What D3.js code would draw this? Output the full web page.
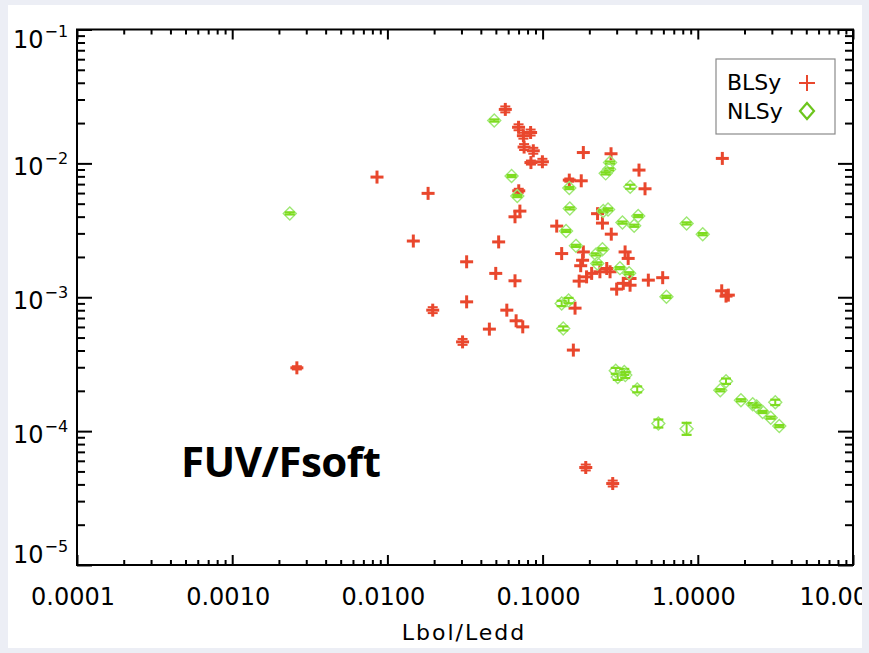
<!DOCTYPE html>
<html><head><meta charset="utf-8">
<script src="https://cdn.jsdelivr.net/npm/d3@7"></script>
<style>body{margin:0;background:#eceef5;overflow:hidden}</style>
</head><body>
<svg id="c" width="869" height="653"></svg>
<script>
// ---- data ----
const xTickValues = [1e-4, 1e-3, 1e-2, 1e-1, 1, 10];
const xTickLabels = ["0.0001", "0.0010", "0.0100", "0.1000", "1.0000", "10.0000"];
const yTickValues = [1e-1, 1e-2, 1e-3, 1e-4, 1e-5];
const yTickExponents = ["\u22121", "\u22122", "\u22123", "\u22124", "\u22125"];
const seriesNames = ["BLSy", "NLSy"];
const xTitle = "Lbol/Ledd";
const panelTitle = "FUV/Fsoft";

const blsyX = [0.0575,0.0700,0.0752,0.0837,0.0760,0.0871,0.0841,0.0997,0.183,0.276,0.418,0.1486,0.1774,0.457,0.0702,0.0714,0.0664,0.226,0.243,0.1233,0.277,0.00857,0.01829,0.01469,0.0521,0.0324,0.0324,0.01959,0.0305,0.00261,0.0588,0.0454,0.0675,0.0745,0.0499,0.0664,0.1618,0.1578,0.1897,0.283,1.439,1.426,1.573,1.52,0.480,0.594,0.1327,0.183,0.181,0.176,0.259,0.272,0.234,0.207,0.192,0.172,0.340,0.356,0.366,0.331,0.366,0.300];
const blsyY = [0.0253,0.0186,0.0161,0.0170,0.01324,0.01242,0.01014,0.01028,0.01205,0.01180,0.00891,0.00750,0.00741,0.00646,0.00624,0.00440,0.00399,0.00421,0.00358,0.00340,0.00296,0.00790,0.00597,0.00263,0.00259,0.00184,0.000924,0.000801,0.000464,0.000297,0.000801,0.000578,0.000667,0.000601,0.001507,0.001327,0.000829,0.000403,5.35e-5,4.06e-5,0.01089,0.001117,0.001037,0.00102,0.001342,0.00140,0.00212,0.00218,0.00189,0.00172,0.00164,0.00155,0.00155,0.001507,0.00142,0.00132,0.00218,0.00195,0.00138,0.00127,0.00123,0.00115];
const blsyErrDex = [0.022,0.022,0.022,0.022,0.022,0.022,0.015,0.022,0,0,0,0.012,0,0,0.015,0,0,0,0,0,0,0,0,0,0,0,0,0.022,0.022,0.012,0,0,0,0,0,0,0,0,0.022,0.022,0,0,0,0,0,0,0,0,0,0,0,0,0,0,0,0,0,0,0,0,0,0];

const nlsyX = [0.0488,0.0631,0.0687,0.00235,0.272,0.268,0.255,0.1486,0.367,0.847,1.076,0.1497,0.246,0.264,0.413,0.327,0.389,0.1416,0.164,0.221,0.243,0.225,0.315,0.361,0.628,0.1327,0.147,0.1358,0.296,0.305,0.336,0.341,0.407,0.557,0.847,1.52,1.396,1.897,2.259,2.395,2.618,2.951,3.350,3.156];
const nlsyY = [0.0209,0.00804,0.00570,0.00423,0.01014,0.00902,0.00842,0.00654,0.00669,0.00356,0.00296,0.00461,0.00440,0.00453,0.00404,0.00361,0.00342,0.00313,0.00242,0.00209,0.00228,0.00179,0.00165,0.00151,0.001007,0.000899,0.000944,0.000585,0.000282,0.000254,0.000277,0.000262,0.000205,0.000114,0.000104,0.000236,0.000202,0.000170,0.000159,0.000153,0.000139,0.000126,0.000109,0.000164];
const nlsyErrDex = [0.008,0.008,0.008,0.008,0.008,0.008,0.008,0.008,0.015,0.008,0.008,0.008,0.008,0.008,0.008,0.008,0.008,0.008,0.008,0.008,0.008,0.008,0.008,0.008,0.008,0.02,0.02,0.015,0.022,0.022,0.022,0.022,0.022,0.03,0.045,0.02,0.008,0.008,0.008,0.008,0.008,0.008,0.008,0.02];

// ---- layout ----
const RED = "#e9472d", GREEN = "#7edc1f", GREEN_LIGHT = "#9ee874";
const FONT = "'DejaVu Sans', sans-serif";
const svg = d3.select("#c");
svg.append("rect").attr("x", 8).attr("y", 5).attr("width", 854).attr("height", 643).attr("fill", "#ffffff");

const L = 77, R = 853, T = 29.5, B = 565;
const x = d3.scaleLog().domain([1e-4, 10]).range([L, R]);
const y = d3.scaleLog().domain([1e-5, 1e-1]).range([B, T]);

function minors(lo, hi) {
  const out = [];
  for (let d = lo; d < hi; d++) for (let k = 2; k <= 9; k++) out.push(k * Math.pow(10, d));
  return out;
}
const xMinor = minors(-4, 1), yMinor = minors(-5, -1);

function addAxis(gen, tx, ty, vals, size) {
  const g = svg.append("g").attr("transform", `translate(${tx},${ty})`)
    .call(gen.tickValues(vals).tickSize(size).tickFormat(""));
  g.select(".domain").remove();
  g.selectAll(".tick line").attr("stroke", "#000").attr("stroke-width", 2);
}
addAxis(d3.axisBottom(x), 0, B, xTickValues, -10);
addAxis(d3.axisBottom(x), 0, B, xMinor, -5);
addAxis(d3.axisTop(x), 0, T, xTickValues, -10);
addAxis(d3.axisTop(x), 0, T, xMinor, -5);
addAxis(d3.axisLeft(y), L, 0, yTickValues, -15);
addAxis(d3.axisLeft(y), L, 0, yMinor, -8);
addAxis(d3.axisRight(y), R, 0, yTickValues, -15);
addAxis(d3.axisRight(y), R, 0, yMinor, -8);

svg.append("rect").attr("x", L).attr("y", T).attr("width", R - L).attr("height", B - T)
  .attr("fill", "none").attr("stroke", "#000").attr("stroke-width", 2);

// x tick labels (the last one is cut by the panel edge, as in the reference)
svg.append("clipPath").attr("id", "pclip").append("rect").attr("x", 8).attr("y", 5).attr("width", 854).attr("height", 643);
svg.append("g").attr("clip-path", "url(#pclip)").selectAll("text").data(xTickValues).join("text")
  .attr("x", (d, i) => x(d) - 4).attr("y", 605)
  .attr("text-anchor", "middle").attr("font-family", FONT).attr("font-size", 24)
  .text((d, i) => xTickLabels[i]);

// y tick labels
yTickValues.forEach((v, i) => {
  const base = Math.max(48, Math.min(563, y(v) + 12));
  const t = svg.append("text").attr("x", 13).attr("y", base)
    .attr("font-family", FONT).attr("font-size", 24);
  t.append("tspan").text("10");
  t.append("tspan").attr("dy", -11).attr("dx", 1).attr("font-size", 16).text(yTickExponents[i]);
});

svg.append("text").attr("x", 464).attr("y", 640).attr("text-anchor", "middle")
  .attr("font-family", FONT).attr("font-size", 22).attr("letter-spacing", 2).text(xTitle);

svg.append("text").attr("x", 181).attr("y", 477).attr("font-family", "'Open Sans', sans-serif")
  .attr("font-weight", "bold").attr("font-size", 42).attr("letter-spacing", -0.5).text(panelTitle);

// ---- BLSy ----
const blsy = blsyX.map((v, i) => ({x: v, y: blsyY[i], e: blsyErrDex[i]}));
const gR = svg.append("g");
blsy.forEach(d => {
  const cx = x(d.x), cy = y(d.y);
  const g = gR.append("g").attr("stroke", RED).attr("fill", "none");
  if (d.e > 0) {
    const y1 = y(d.y * Math.pow(10, d.e)), y2 = y(d.y / Math.pow(10, d.e));
    g.append("line").attr("x1", cx).attr("x2", cx).attr("y1", y1 - 1).attr("y2", y2 + 1).attr("stroke-width", 2);
    [y1, y2].forEach(yy => g.append("line").attr("x1", cx - 5).attr("x2", cx + 5).attr("y1", yy).attr("y2", yy).attr("stroke-width", 2));
  }
  g.append("line").attr("x1", cx - 6.5).attr("x2", cx + 6.5).attr("y1", cy).attr("y2", cy).attr("stroke-width", 3);
  g.append("line").attr("x1", cx).attr("x2", cx).attr("y1", cy - 6.5).attr("y2", cy + 6.5).attr("stroke-width", 3);
});

// ---- NLSy ----
const nlsy = nlsyX.map((v, i) => ({x: v, y: nlsyY[i], e: nlsyErrDex[i]}));
const gG = svg.append("g");
nlsy.forEach(d => {
  const cx = x(d.x), cy = y(d.y), h = 6.5;
  const g = gG.append("g").attr("fill", "none");
  g.append("path").attr("d", `M${cx},${cy - h}L${cx + h},${cy}L${cx},${cy + h}L${cx - h},${cy}Z`)
    .attr("stroke", GREEN_LIGHT).attr("stroke-width", 1.4);
  const y1 = y(d.y * Math.pow(10, d.e)), y2 = y(d.y / Math.pow(10, d.e));
  g.append("line").attr("x1", cx).attr("x2", cx).attr("y1", y1).attr("y2", y2).attr("stroke", GREEN).attr("stroke-width", 2);
  [y1, y2].forEach(yy => g.append("line").attr("x1", cx - 5).attr("x2", cx + 5).attr("y1", yy).attr("y2", yy)
    .attr("stroke", GREEN).attr("stroke-width", 2.2));
});

// ---- legend ----
const lg = svg.append("g");
lg.append("rect").attr("x", 716).attr("y", 59).attr("width", 119).attr("height", 75)
  .attr("fill", "#fff").attr("stroke", "#8a8a8a").attr("stroke-width", 1.2);
lg.append("text").attr("x", 727).attr("y", 90).attr("font-family", FONT).attr("font-size", 22).text(seriesNames[0]);
lg.append("text").attr("x", 727).attr("y", 119).attr("font-family", FONT).attr("font-size", 22).text(seriesNames[1]);
lg.append("line").attr("x1", 799).attr("x2", 815).attr("y1", 83).attr("y2", 83).attr("stroke", RED).attr("stroke-width", 2);
lg.append("line").attr("x1", 807).attr("x2", 807).attr("y1", 75).attr("y2", 91).attr("stroke", RED).attr("stroke-width", 2);
lg.append("path").attr("d", "M807,103L814,111L807,119L800,111Z").attr("fill", "none").attr("stroke", "#6cc51c").attr("stroke-width", 2.2);
</script>
</body></html>
